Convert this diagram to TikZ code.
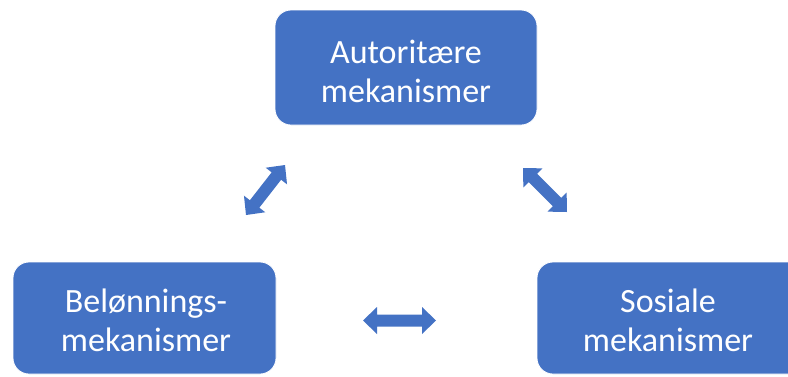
\documentclass[tikz,border=0pt]{standalone}
\usepackage{fontspec}
\setmainfont{Carlito}
\usetikzlibrary{calc}
\definecolor{officeblue}{HTML}{4472C4}
\tikzset{
  mechbox/.style={draw=white, line width=0.8pt, fill=officeblue, rounded corners=16pt,
    text=white, align=center, font=\fontsize{34}{39}\selectfont, inner sep=0pt},
  mechtext/.style={text=white, align=center, font=\fontsize{34}{39}\selectfont, inner sep=0pt},
  blockarrow/.style={fill=officeblue, draw=none}
}
\newcommand\dblblockarrow[2]{%
  \fill[blockarrow] (#1)
    -- ($($(#1)!14pt!(#2)$)!13.5pt!90:(#2)$)
    -- ($($(#1)!14pt!(#2)$)!6pt!90:(#2)$)
    -- ($($(#2)!14pt!(#1)$)!6pt!-90:(#1)$)
    -- ($($(#2)!14pt!(#1)$)!13.5pt!-90:(#1)$)
    -- (#2)
    -- ($($(#2)!14pt!(#1)$)!13.5pt!90:(#1)$)
    -- ($($(#2)!14pt!(#1)$)!6pt!90:(#1)$)
    -- ($($(#1)!14pt!(#2)$)!6pt!-90:(#2)$)
    -- ($($(#1)!14pt!(#2)$)!13.5pt!-90:(#2)$)
    -- cycle;}
\begin{document}
\begin{tikzpicture}[x=1pt,y=-1pt]
\useasboundingbox (0,0) rectangle (788,376);
\clip (0,0) rectangle (788,376);
\fill[white] (0,0) rectangle (788,376);
\node[mechbox, minimum width=262pt, minimum height=115pt] (auth) at (406,67.5) {};
\node[mechtext] (authtxt) at (406,71.5) {Autoritære\\mekanismer};
\node[mechbox, minimum width=263pt, minimum height=112pt] (reward) at (144.5,318) {};
\node[mechtext] (rewardtxt) at (146,320.5) {Belønnings-\\mekanismer};
\node[mechbox, minimum width=270pt, minimum height=112pt] (social) at (672,318) {};
\node[mechtext] (socialtxt) at (668,320.5) {Sosiale\\mekanismer};
\coordinate (a1) at (285,165);
\coordinate (b1) at (246,215);
\coordinate (a2) at (523,168);
\coordinate (b2) at (567,212);
\coordinate (a3) at (363,320.5);
\coordinate (b3) at (436,320.5);
\dblblockarrow{a1}{b1}
\dblblockarrow{a2}{b2}
\dblblockarrow{a3}{b3}
\end{tikzpicture}
\end{document}
